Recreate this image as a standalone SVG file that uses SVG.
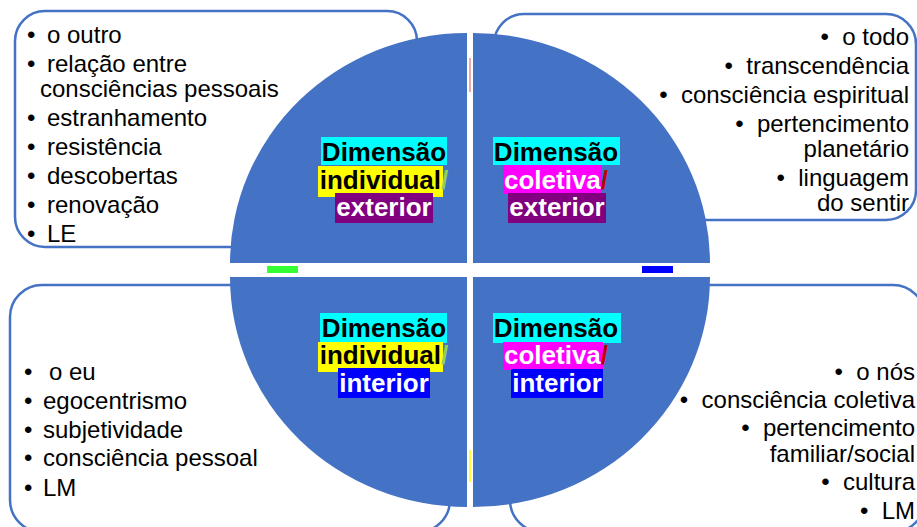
<svg xmlns="http://www.w3.org/2000/svg" width="917" height="527" viewBox="0 0 917 527">
<style>
.box{fill:none;stroke:#4472C4;stroke-width:2.5}
.q{fill:#4472C4}
.t{font-family:"Liberation Sans",Arial,sans-serif;font-size:24px;fill:#000}
.l{font-family:"Liberation Sans",Arial,sans-serif;font-size:26px;font-weight:bold;text-anchor:middle}
.e{text-anchor:end}
</style>
<rect width="917" height="527" fill="#fff"/>
<g id="box-tl">
<rect class="box" x="15" y="11" width="402" height="236" rx="30"/>
<text class="t" x="27" y="43">•</text><text class="t" x="47" y="43">o outro</text>
<text class="t" x="27" y="72">•</text><text class="t" x="47" y="72">relação entre</text>
<text class="t" x="40" y="97">consciências pessoais</text>
<text class="t" x="27" y="126">•</text><text class="t" x="47" y="126">estranhamento</text>
<text class="t" x="27" y="155">•</text><text class="t" x="47" y="155">resistência</text>
<text class="t" x="27" y="184">•</text><text class="t" x="47" y="184">descobertas</text>
<text class="t" x="27" y="213">•</text><text class="t" x="47" y="213">renovação</text>
<text class="t" x="27" y="242">•</text><text class="t" x="47" y="242">LE</text>
</g>
<g id="box-tr">
<rect class="box" x="494" y="14" width="422" height="206" rx="30"/>
<text class="t e" x="909" y="45">•&#160; o todo</text>
<text class="t e" x="909" y="74">•&#160; transcendência</text>
<text class="t e" x="909" y="103">•&#160; consciência espiritual</text>
<text class="t e" x="909" y="132">•&#160; pertencimento</text>
<text class="t e" x="909" y="157">planetário</text>
<text class="t e" x="909" y="186">•&#160; linguagem</text>
<text class="t e" x="909" y="211">do sentir</text>
</g>
<g id="box-bl">
<rect class="box" x="10" y="285" width="440" height="247" rx="32"/>
<text class="t" x="24" y="380">•</text><text class="t" x="49" y="380">o eu</text>
<text class="t" x="24" y="409">•</text><text class="t" x="43" y="409">egocentrismo</text>
<text class="t" x="24" y="438">•</text><text class="t" x="43" y="438">subjetividade</text>
<text class="t" x="24" y="466">•</text><text class="t" x="43" y="466">consciência pessoal</text>
<text class="t" x="24" y="496">•</text><text class="t" x="43" y="496">LM</text>
</g>
<g id="box-br">
<rect class="box" x="510" y="285" width="415" height="247" rx="32"/>
<text class="t e" x="915" y="380">•&#160; o nós</text>
<text class="t e" x="915" y="408">•&#160; consciência coletiva</text>
<text class="t e" x="915" y="436">•&#160; pertencimento</text>
<text class="t e" x="915" y="462">familiar/social</text>
<text class="t e" x="915" y="490">•&#160; cultura</text>
<text class="t e" x="915" y="519">•&#160; LM</text>
</g>
<g id="quadrant-tl">
<path class="q" d="M467,263 L230,263 A237,230 0 0 1 467,33 Z"/>
<rect x="321" y="137" width="126" height="28" fill="#00FFFF"/>
<rect x="318" y="166" width="125" height="31" fill="#FFFF00"/>
<rect x="335" y="193" width="98" height="30" fill="#800080"/>
<text class="l" x="384" y="161" fill="#000">Dimensão</text>
<text class="l" x="384" y="189" fill="#000">individual<tspan fill="#92D050">/</tspan></text>
<text class="l" x="384" y="216" fill="#fff">exterior</text>
</g>
<g id="quadrant-tr">
<path class="q" d="M473,263 L473,33 A237,230 0 0 1 710,263 Z"/>
<rect x="493" y="137" width="127" height="28" fill="#00FFFF"/>
<rect x="503" y="165" width="99" height="29" fill="#FF00FF"/>
<rect x="508" y="193" width="98" height="30" fill="#800080"/>
<text class="l" x="556" y="161" fill="#000">Dimensão</text>
<text class="l" x="556" y="189" fill="#fff">coletiva<tspan fill="#C00000">/</tspan></text>
<text class="l" x="557" y="216" fill="#fff">exterior</text>
</g>
<g id="quadrant-bl">
<path class="q" d="M467,277 L467,507 A237,230 0 0 1 230,277 Z"/>
<rect x="320" y="313" width="127" height="30" fill="#00FFFF"/>
<rect x="318" y="342" width="125" height="30" fill="#FFFF00"/>
<rect x="338" y="368" width="92" height="30" fill="#0000FF"/>
<text class="l" x="384" y="337" fill="#000">Dimensão</text>
<text class="l" x="384" y="364" fill="#000">individual<tspan fill="#92D050">/</tspan></text>
<text class="l" x="384" y="392" fill="#fff">interior</text>
</g>
<g id="quadrant-br">
<path class="q" d="M473,277 L710,277 A237,230 0 0 1 473,507 Z"/>
<rect x="493" y="313" width="128" height="30" fill="#00FFFF"/>
<rect x="503" y="342" width="100" height="28" fill="#FF00FF"/>
<rect x="511" y="369" width="92" height="29" fill="#0000FF"/>
<text class="l" x="556" y="337" fill="#000">Dimensão</text>
<text class="l" x="556" y="364" fill="#fff">coletiva<tspan fill="#C00000">/</tspan></text>
<text class="l" x="557" y="392" fill="#fff">interior</text>
</g>
<g id="connectors">
<line x1="470" y1="58" x2="470" y2="92" stroke="#E05050" stroke-width="1"/>
<line x1="470" y1="450" x2="470" y2="482" stroke="#FFFF00" stroke-width="1.5"/>
<rect x="267" y="266" width="31" height="7" fill="#33FF33"/>
<rect x="642" y="266" width="31" height="7" fill="#0000FF"/>
</g>
</svg>
